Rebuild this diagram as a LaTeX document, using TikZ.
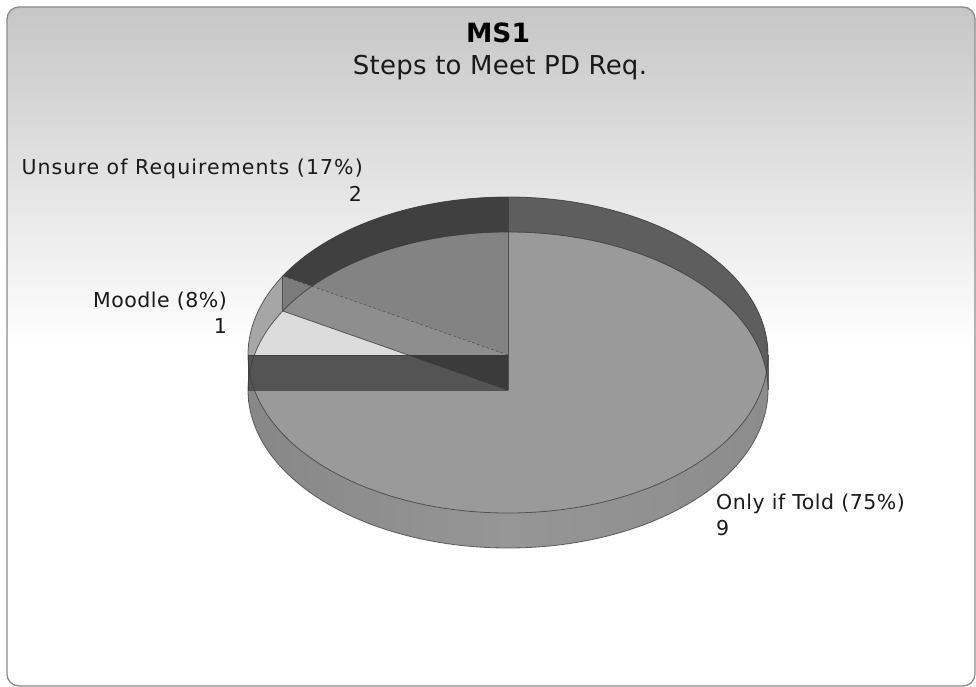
\documentclass[tikz,border=0pt]{standalone}
\usepackage{fontspec}
\setmainfont{DejaVu Sans}
\definecolor{bgtop}{HTML}{C6C6C6}
\definecolor{framegray}{HTML}{8A8A8A}
\definecolor{wallL}{HTML}{878787}
\definecolor{wallM}{HTML}{969696}
\definecolor{wallR}{HTML}{8C8C8C}
\definecolor{faceTold}{HTML}{9A9A9A}
\definecolor{faceUnsure}{HTML}{838383}
\definecolor{faceMoodle}{HTML}{DCDCDC}
\definecolor{backTold}{HTML}{5E5E5E}
\definecolor{backUnsure}{HTML}{404040}
\definecolor{backMoodle}{HTML}{A6A6A6}
\definecolor{sideA}{HTML}{8E8E8E}
\definecolor{sideAback}{HTML}{7B7B7B}
\definecolor{sideB}{HTML}{545454}
\definecolor{sideAB}{HTML}{3B3B3B}
\definecolor{edgegray}{HTML}{3A3A3A}
\definecolor{labeltext}{HTML}{1A1A1A}
\begin{document}
\begin{tikzpicture}[x=1pt,y=-1pt,
  edge/.style={draw=edgegray, line width=0.8pt, draw opacity=0.75},
  lbl/.style={font=\fontsize{20.5}{26}\selectfont, text=labeltext, inner sep=0pt},
  ttl/.style={font=\fontsize{26.5}{30}\selectfont\bfseries, text=black, inner sep=0pt},
  subttl/.style={font=\fontsize{26}{30}\selectfont\addfontfeatures{LetterSpace=1}, text=labeltext, inner sep=0pt}]
\useasboundingbox (0,0) rectangle (976,687);

% chart panel with its vertical gradient
\begin{scope}
  \clip[rounded corners=12pt] (7,7) rectangle (975,686);
  \fill[white] (7,7) rectangle (975,686);
  \shade[top color=bgtop, bottom color=white] (7,7) rectangle (975,345);
\end{scope}
\draw[framegray, line width=1.3pt, rounded corners=12pt] (7,7) rectangle (975,686);

% titles
\node[ttl, anchor=base] (title) at (498,43) {MS1};
\node[subttl, anchor=base] (subtitle) at (500,75) {Steps to Meet PD Req.};

% pie: centre (508,355), radii 260 x 158, depth 35
\coordinate (C) at (508,355);
\coordinate (Cb) at (508,390);
\coordinate (T90) at (508,197);
\coordinate (B90) at (508,232);
\coordinate (T150) at (282.8,276);
\coordinate (B150) at (282.8,311);
\coordinate (T180) at (248,355);
\coordinate (B180) at (248,390);
\coordinate (T0) at (768,355);
\coordinate (B0) at (768,390);

% outer side wall (whole silhouette)
\shade[left color=wallL, right color=wallR, middle color=wallM]
  plot[domain=0:180, samples=91, variable=\t] ({508+260*cos(\t)},{355-158*sin(\t)})
  -- plot[domain=180:360, samples=91, variable=\t] ({508+260*cos(\t)},{390-158*sin(\t)})
  -- cycle;

% top faces
\fill[faceTold] (C) -- plot[domain=-180:90, samples=181, variable=\t] ({508+260*cos(\t)},{355-158*sin(\t)}) -- cycle;
\fill[faceMoodle] (C) -- plot[domain=150:180, samples=31, variable=\t] ({508+260*cos(\t)},{355-158*sin(\t)}) -- cycle;
\fill[faceUnsure] (C) -- plot[domain=90:150, samples=61, variable=\t] ({508+260*cos(\t)},{355-158*sin(\t)}) -- cycle;

% back wall seen through the top
\fill[backTold]
  plot[domain=0:90, samples=91, variable=\t] ({508+260*cos(\t)},{355-158*sin(\t)})
  -- plot[domain=0:90, samples=91, variable=\t] ({508+260*cos(90-\t)},{390-158*sin(90-\t)})
  -- cycle;
\fill[backUnsure]
  plot[domain=90:150, samples=61, variable=\t] ({508+260*cos(\t)},{355-158*sin(\t)})
  -- plot[domain=90:150, samples=61, variable=\t] ({508+260*cos(240-\t)},{390-158*sin(240-\t)})
  -- cycle;
\fill[backMoodle]
  plot[domain=150:180, samples=31, variable=\t] ({508+260*cos(\t)},{355-158*sin(\t)})
  -- plot[domain=150:180, samples=31, variable=\t] ({508+260*cos(330-\t)},{390-158*sin(330-\t)})
  -- cycle;

% radial side at 150 degrees
\fill[sideA] (C) -- (T150) -- (B150) -- (Cb) -- cycle;
\begin{scope}
  \clip plot[domain=90:150, samples=61, variable=\t] ({508+260*cos(\t)},{355-158*sin(\t)})
    -- plot[domain=90:150, samples=61, variable=\t] ({508+260*cos(240-\t)},{390-158*sin(240-\t)})
    -- cycle;
  \fill[sideAback] (C) -- (T150) -- (B150) -- (Cb) -- cycle;
\end{scope}

% radial side at 180 degrees
\fill[sideB] (T180) rectangle (Cb);
\begin{scope}
  \clip (C) -- (T150) -- (B150) -- (Cb) -- cycle;
  \fill[sideAB] (T180) rectangle (Cb);
\end{scope}

% edges
\draw[edge] (C) ellipse [x radius=260, y radius=158];
\draw[edge] (Cb) ellipse [x radius=260, y radius=158];
\draw[edge] (T90) -- (Cb);
\draw[edge] (T180) -- (C);
\draw[edge] (B180) -- (Cb);
\draw[edge] (Cb) -- (B150);
\draw[edge] (T150) -- (B150);
\draw[edge] (T180) -- (B180);
\draw[edge] (T0) -- (B0);
\draw[edge, line width=0.6pt, dash pattern=on 3pt off 2pt] (C) -- (T150);

% labels
\node[lbl, anchor=base east] (lunsure) at (363,175) {\addfontfeatures{LetterSpace=5.2}Unsure of Requirements (17\%)};
\node[lbl, anchor=base east] (vunsure) at (362,201) {2};
\node[lbl, anchor=base east] (lmoodle) at (227,307) {\addfontfeatures{LetterSpace=2.4}Moodle (8\%)};
\node[lbl, anchor=base east] (vmoodle) at (227,333) {1};
\node[lbl, anchor=base west] (ltold) at (716,509) {\addfontfeatures{LetterSpace=2.6}Only if Told (75\%)};
\node[lbl, anchor=base west] (vtold) at (716,535) {9};
\end{tikzpicture}
\end{document}
